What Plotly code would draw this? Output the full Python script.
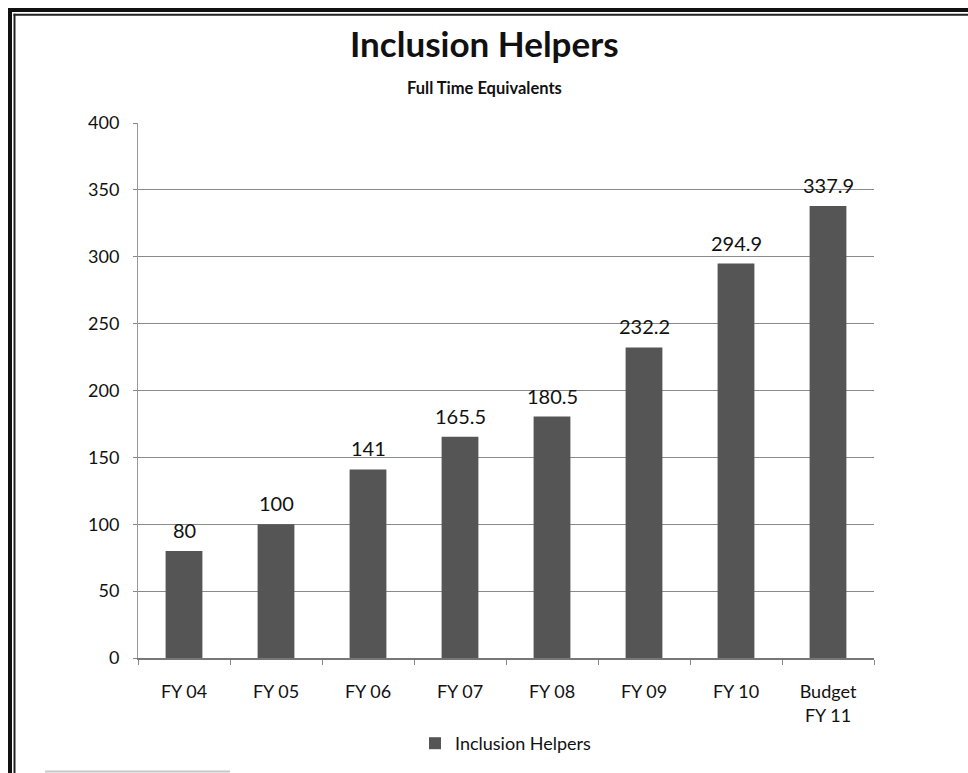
import plotly.graph_objects as go

categories = ["FY 04", "FY 05", "FY 06", "FY 07", "FY 08", "FY 09", "FY 10", "Budget<br>FY 11"]
values = [80, 100, 141, 165.5, 180.5, 232.2, 294.9, 337.9]
value_labels = ["80", "100", "141", "165.5", "180.5", "232.2", "294.9", "337.9"]
y_ticks = [0, 50, 100, 150, 200, 250, 300, 350, 400]

W, H = 968, 773
L, R, T, B = 138, 874, 123, 658

def px(x):
    return (x - L) / (R - L)

def py(y):
    return (B - y) / (B - T)

FONT = "Lato, 'Open Sans', sans-serif"

fig = go.Figure()
fig.add_trace(go.Bar(
    x=categories, y=values, name="Inclusion Helpers",
    marker=dict(color="#555555", line=dict(width=0)),
    width=0.4,
))

shapes = [
    dict(type="line", xref="paper", yref="paper", x0=px(8), x1=px(980), y0=py(10), y1=py(10),
         line=dict(color="#111", width=4)),
    dict(type="line", xref="paper", yref="paper", x0=px(13.5), x1=px(980), y0=py(14.7), y1=py(14.7),
         line=dict(color="#222", width=2)),
    dict(type="line", xref="paper", yref="paper", x0=px(10), x1=px(10), y0=py(8), y1=py(790),
         line=dict(color="#111", width=4)),
    dict(type="line", xref="paper", yref="paper", x0=px(14.5), x1=px(14.5), y0=py(13.7), y1=py(790),
         line=dict(color="#222", width=2)),
    dict(type="line", xref="paper", yref="paper", x0=px(45), x1=px(230), y0=py(771.5), y1=py(771.5),
         line=dict(color="#c8c8c8", width=2)),
]

annotations = [
    dict(text="<b>Inclusion Helpers</b>", xref="paper", yref="paper", x=px(484), y=py(43),
         xanchor="center", yanchor="middle", showarrow=False,
         font=dict(size=35, family=FONT, color="#111")),
    dict(text="<b>Full Time Equivalents</b>", xref="paper", yref="paper", x=px(484), y=py(88),
         xanchor="center", yanchor="middle", showarrow=False,
         font=dict(size=16.5, family=FONT, color="#111")),
]
for c, v, t in zip(categories, values, value_labels):
    annotations.append(dict(text=t, x=c, y=v, xref="x", yref="y", xanchor="center",
                            yanchor="bottom", yshift=7, showarrow=False,
                            font=dict(size=20, family=FONT, color="#111")))

fig.update_layout(
    width=W, height=H,
    margin=dict(l=L, r=W - R, t=T, b=H - B, autoexpand=False),
    paper_bgcolor="white", plot_bgcolor="white",
    font=dict(family=FONT, color="#111", size=18),
    xaxis=dict(
        showgrid=False, showline=True, linecolor="#777", linewidth=1.5,
        ticks="outside", tickson="boundaries", ticklen=5, tickcolor="#888",
        tickfont=dict(size=18, family=FONT), ticklabelstandoff=17, automargin=False,
    ),
    yaxis=dict(
        range=[0, 400], tickvals=y_ticks, showgrid=True, gridcolor="#8a8a8a", gridwidth=1,
        showline=True, linecolor="#999", linewidth=1, ticks="outside", ticklen=4, tickcolor="#888",
        tickfont=dict(size=18, family=FONT), zeroline=False, ticklabelstandoff=10, automargin=False,
    ),
    showlegend=True,
    legend=dict(orientation="h", x=0.5, xanchor="center", yref="container", y=1 - 725 / H,
                yanchor="top", font=dict(size=18, family=FONT)),
    shapes=shapes,
    annotations=annotations,
    bargap=0.6,
)

fig.write_html("out.html", post_script="document.body.style.margin='0';",
               config={"displayModeBar": False})
